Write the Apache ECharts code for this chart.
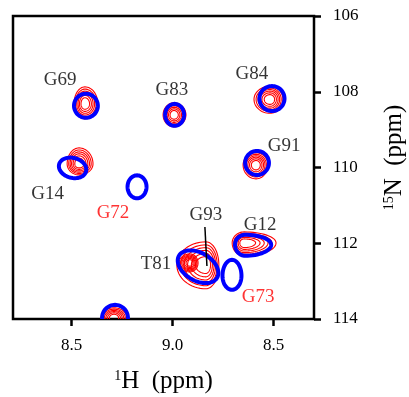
<!DOCTYPE html>
<html><head><meta charset="utf-8">
<script src="https://cdn.jsdelivr.net/npm/echarts@6/dist/echarts.min.js"></script>
<style>html,body{margin:0;padding:0;background:#fff}#c{width:409px;height:397px}</style>
</head><body><div id="c"></div>
<script>
// ---- axis ticks ----
const xTickValues = [9.5, 9.0, 8.5];
const xTickLabels = ['8.5', '9.0', '8.5'];
const yTickValues = [106, 108, 110, 112, 114];

// ---- red spectrum: peak maxima (1H ppm, 15N ppm) and outer-contour half-widths (ppm) ----
const redNames = ['G69', 'G83', 'G84', 'G91', 'G14', 'G93', 'T81', 'G12', 'P_bottom'];
const redH     = [9.434, 8.993, 8.518, 8.587, 9.463, 8.835, 8.914, 8.646, 9.290];
const redN     = [108.32, 108.61, 108.20, 109.93, 109.905, 112.57, 112.52, 111.99, 113.97];
const redWL    = [0.054, 0.054, 0.079, 0.064, 0.059, 0.144, 0.054, 0.059, 0.064];
const redWR    = [0.064, 0.059, 0.064, 0.059, 0.069, 0.064, 0.040, 0.158, 0.064];
const redWT    = [0.449, 0.317, 0.343, 0.317, 0.422, 0.607, 0.237, 0.290, 0.264];
const redWB    = [0.396, 0.317, 0.369, 0.369, 0.290, 0.633, 0.237, 0.343, 0.264];
const redTilt  = [0, 0, 0, 0, 0, 0, 0, 0, 0];

// ---- blue spectrum: peak centres and contour half-widths (ppm) ----
const blueNames = ['G69', 'G83', 'G84', 'G91', 'G14', 'G72', 'T81/G93', 'G73', 'G12', 'P_bottom'];
const blueH     = [9.429, 8.990, 8.508, 8.582, 9.495, 9.176, 8.874, 8.706, 8.641, 9.285];
const blueN     = [108.37, 108.61, 108.18, 109.88, 110.01, 110.51, 112.62, 112.86, 112.04, 113.97];
const blueWL    = [0.059, 0.047, 0.062, 0.059, 0.069, 0.047, 0.109, 0.047, 0.050, 0.064];
const blueWR    = [0.059, 0.047, 0.062, 0.059, 0.069, 0.047, 0.109, 0.047, 0.129, 0.064];
const blueWT    = [0.317, 0.290, 0.330, 0.317, 0.264, 0.303, 0.369, 0.422, 0.264, 0.343];
const blueWB    = [0.317, 0.290, 0.330, 0.317, 0.264, 0.303, 0.369, 0.369, 0.290, 0.343];
const blueTilt  = [0, 0, 0, 0, 15, 0, 30, 0, 0, 0];

// ---- contour levels (fraction of outer contour) ----
const redLevels = [1, 0.87, 0.75, 0.63, 0.5, 0.36];
const blueLevels = [1];

// ---- assignment labels (anchor in ppm) ----
const blackLabels = ['G69', 'G83', 'G84', 'G91', 'G14', 'G93', 'G12', 'T81'];
const blackLabelH = [9.557, 9.003, 8.607, 8.448, 9.619, 8.835, 8.567, 9.082];
const blackLabelN = [107.70, 107.95, 107.52, 109.42, 110.70, 111.26, 111.51, 112.54];
const redLabels   = ['G72', 'G73'];
const redLabelH   = [9.295, 8.577];
const redLabelN   = [111.19, 113.41];

// ---- leader line G93 ----
const leaderH = [8.840, 8.830];
const leaderN = [111.57, 112.60];

function peakData(H, N, WL, WR, WT, WB, T) {
  return H.map((h, i) => [h, N[i], WL[i], WR[i], WT[i], WB[i], T[i]]);
}

function makeRender(levels, color, lw) {
  return function (params, api) {
    const c = api.coord([api.value(0), api.value(1)]);
    const s1 = api.size([api.value(2), api.value(4)]);
    const s2 = api.size([api.value(3), api.value(5)]);
    const rL = Math.abs(s1[0]), rT = Math.abs(s1[1]);
    const rR = Math.abs(s2[0]), rB = Math.abs(s2[1]);
    const rot = api.value(6) * Math.PI / 180;
    const children = levels.map(f => {
      const pts = [];
      const n = 64;
      for (let k = 0; k < n; k++) {
        const t = 2 * Math.PI * k / n;
        const ct = Math.cos(t), st = Math.sin(t);
        const dx = ct * (ct > 0 ? rR : rL) * f;
        const dy = st * (st > 0 ? rB : rT) * f;
        pts.push([c[0] + dx * Math.cos(rot) - dy * Math.sin(rot),
                  c[1] + dx * Math.sin(rot) + dy * Math.cos(rot)]);
      }
      return { type: 'polygon', shape: { points: pts, smooth: 0 },
               style: { fill: null, stroke: color, lineWidth: lw } };
    });
    return { type: 'group', children: children };
  };
}

const chart = echarts.init(document.getElementById('c'), null, { renderer: 'canvas' });
const serif = "'Liberation Serif', 'Times New Roman', serif";

chart.setOption({
  animation: false,
  backgroundColor: '#fff',
  grid: { left: 13, right: 95, top: 16, bottom: 78, containLabel: false, outerBoundsMode: 'none',
          show: true, borderColor: '#000', borderWidth: 2.5, backgroundColor: 'transparent' },
  xAxis: {
    type: 'value', min: 8.30, max: 9.79, inverse: true,
    splitLine: { show: false },
    axisLine: { show: false },
    axisTick: { show: true, inside: false, length: 7, customValues: xTickValues, lineStyle: { color: '#000', width: 2.5 } },
    axisLabel: { show: true, customValues: xTickValues, margin: 18, color: '#000', fontFamily: serif, fontSize: 17,
      formatter: v => { const i = xTickValues.findIndex(t => Math.abs(t - v) < 1e-6); return i >= 0 ? xTickLabels[i] : ''; } },
    name: '{sup|1}{n|H  (ppm)}', nameLocation: 'middle', nameGap: 50,
    nameTextStyle: { color: '#000', fontFamily: serif,
      rich: { sup: { fontSize: 14, fontFamily: serif, color: '#000', padding: [0, 0, 10, 0] },
              n: { fontSize: 25, fontFamily: serif, color: '#000' } } }
  },
  yAxis: {
    type: 'value', min: 106, max: 114, interval: 2, inverse: true, position: 'right',
    splitLine: { show: false },
    axisLine: { show: false },
    axisTick: { show: true, inside: false, length: 7, lineStyle: { color: '#000', width: 2.5 } },
    axisLabel: { show: true, margin: 19, color: '#000', fontFamily: serif, fontSize: 17 },
    name: '{sup|15}{n|N  (ppm)}', nameLocation: 'middle', nameGap: 68, nameRotate: 90,
    nameTextStyle: { color: '#000', fontFamily: serif, padding: [0, 0, 0, 20],
      rich: { sup: { fontSize: 14, fontFamily: serif, color: '#000', padding: [0, 0, 10, 0] },
              n: { fontSize: 25, fontFamily: serif, color: '#000' } } }
  },
  series: [
    { type: 'custom', name: 'red', clip: true, z: 2, renderItem: makeRender(redLevels, '#ff0000', 1.1),
      encode: { x: 0, y: 1 }, data: peakData(redH, redN, redWL, redWR, redWT, redWB, redTilt) },
    { type: 'custom', name: 'blue', clip: true, z: 3, renderItem: makeRender(blueLevels, '#0000ff', 4),
      encode: { x: 0, y: 1 }, data: peakData(blueH, blueN, blueWL, blueWR, blueWT, blueWB, blueTilt) },
    { type: 'line', z: 4, symbol: 'none', lineStyle: { color: '#000', width: 1.5 },
      data: leaderH.map((h, i) => [h, leaderN[i]]) },
    { type: 'scatter', z: 5, symbolSize: 1, itemStyle: { color: 'rgba(0,0,0,0)' },
      label: { show: true, position: 'inside', formatter: p => p.value[2], color: '#000', fontFamily: serif, fontSize: 19 },
      data: blackLabels.map((t, i) => [blackLabelH[i], blackLabelN[i], t]) },
    { type: 'scatter', z: 5, symbolSize: 1, itemStyle: { color: 'rgba(0,0,0,0)' },
      label: { show: true, position: 'inside', formatter: p => p.value[2], color: '#ff0000', fontFamily: serif, fontSize: 19 },
      data: redLabels.map((t, i) => [redLabelH[i], redLabelN[i], t]) }
  ]
});
</script></body></html>
